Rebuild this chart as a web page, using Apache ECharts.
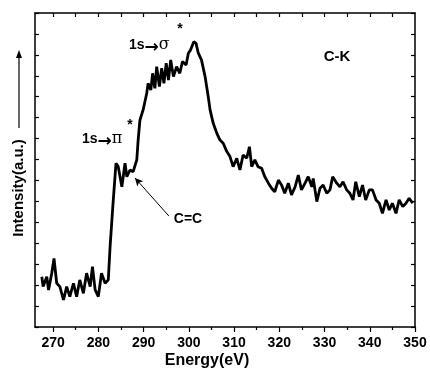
<!DOCTYPE html>
<html>
<head>
<meta charset="utf-8">
<script src="https://cdn.jsdelivr.net/npm/echarts@6/dist/echarts.min.js"></script>
<style>
  html, body { margin: 0; padding: 0; background: #fff; }
  #chart { width: 430px; height: 370px; }
</style>
</head>
<body>
<div id="chart"></div>
<script>
// C-K edge spectrum
var energy = [
  267.5, 267.8, 268.6, 269.0, 269.7, 270.2, 270.8, 271.5, 272.3, 273.0,
  273.7, 274.5, 275.2, 275.9, 276.7, 277.4, 278.2, 278.7, 279.3, 280.0,
  280.7, 281.5, 282.2, 282.6, 283.2, 283.9, 284.4, 285.2, 285.9, 286.3,
  287.0, 287.7, 288.5, 288.8, 289.2, 289.9, 290.7, 291.0, 291.6, 292.0,
  292.5, 292.9, 293.5, 294.0, 294.5, 295.0, 295.5, 296.0, 296.6, 297.3,
  298.0, 298.6, 299.4, 299.9, 300.4, 301.1, 301.6, 302.1, 302.8, 303.6,
  304.3, 304.7, 305.4,
  306.2, 306.9, 307.6, 308.4, 309.1, 309.8, 310.6, 311.3, 312.0, 312.8,
  313.4, 313.9, 314.6, 315.3, 316.1, 316.8, 317.6, 318.3, 319.0, 319.8,
  320.5, 321.2, 322.0, 322.7, 323.5, 324.2, 324.9, 325.7, 326.4, 327.2,
  327.5, 328.3, 329.0, 329.7, 330.5, 331.2, 331.8, 332.7, 333.4, 334.1,
  334.9, 335.6, 336.3, 336.9, 337.7, 338.4, 339.1, 339.9, 340.6, 341.4,
  342.1, 342.8, 343.6, 344.3, 345.0, 345.8, 346.5, 347.3, 348.0, 348.7,
  349.5
];
var intensity = [
  2.40, 1.93, 2.40, 1.77, 2.57, 3.28, 2.09, 1.93, 1.29, 1.93,
  1.45, 2.09, 1.45, 2.25, 1.61, 2.57, 1.93, 2.88, 1.77, 1.45,
  2.57, 2.09, 2.25, 3.84, 5.75, 7.82, 7.66, 6.70, 7.82, 7.18,
  7.50, 7.42, 7.98, 8.93, 9.89, 10.37, 11.17, 11.64, 11.32, 12.12,
  11.40, 12.44, 11.48, 12.36, 11.64, 12.60, 11.80, 12.76, 11.96, 12.44,
  12.12, 12.68, 12.52, 13.08, 13.24, 13.63, 13.55, 13.08, 12.76, 11.96,
  11.00, 10.37, 9.73,
  9.25, 8.93, 8.78, 8.38, 8.14, 7.66, 8.06, 7.50, 8.22, 8.06,
  8.61, 7.66, 7.98, 7.66, 7.58, 7.18, 6.87, 6.63, 6.46, 7.02,
  6.78, 6.39, 6.87, 6.31, 6.70, 7.26, 6.55, 6.87, 7.18, 6.70,
  7.10, 5.99, 6.63, 6.78, 6.39, 6.55, 7.18, 6.87, 6.70, 6.94,
  6.55, 6.39, 6.07, 6.94, 6.23, 6.78, 6.07, 6.55, 6.55, 6.07,
  5.91, 5.43, 6.07, 5.59, 5.91, 5.43, 6.07, 5.75, 5.91, 6.15,
  5.91
];
var xTicks = [270, 280, 290, 300, 310, 320, 330, 340, 350];
var xMinorTicks = [275, 285, 295, 305, 315, 325, 335, 345];
var topTicks = [270, 275, 280, 285, 290, 295, 300, 305, 310, 315, 320, 325, 330, 335, 340, 345];
// arrow pointing at the pi* feature
var ccArrow = [[295.6, 5.30], [288.1, 7.12]];

var font = "'Liberation Sans', Arial, sans-serif";
var black = "#000";

var myChart = echarts.init(document.getElementById("chart"));

var points = [];
for (var i = 0; i < energy.length; i++) {
  points.push([energy[i], intensity[i]]);
}

var axisLine = { show: true, lineStyle: { color: black, width: 1.5 } };

// rich text for the "1s -> x" transition labels
function transition(x, y, greek) {
  return {
    type: "text", x: x, y: y,
    style: {
      text: "{a|1s}{b|→}{c|" + greek + "}", verticalAlign: "middle",
      rich: {
        a: { font: "bold 14px " + font, color: black },
        b: { font: "bold 17px 'DejaVu Sans', sans-serif", color: black, padding: [5, 0, 0, 0] },
        c: { font: "16px 'DejaVu Serif', serif", color: black }
      }
    }
  };
}

myChart.setOption({
  animation: false,
  backgroundColor: "#fff",
  grid: { left: 35, right: 15, top: 13, bottom: 43 },
  xAxis: [
    {
      type: "value", min: 266, max: 350, position: "bottom",
      axisLine: axisLine,
      axisTick: { show: true, inside: false, length: 5, customValues: xTicks, lineStyle: { color: black, width: 1.2 } },
      axisLabel: { customValues: xTicks, margin: 9, color: black, fontSize: 14, fontWeight: "bold", fontFamily: font },
      splitLine: { show: false }
    },
    {
      type: "value", min: 266, max: 350, position: "bottom",
      axisLine: { show: false },
      axisTick: { show: true, inside: false, length: 3, customValues: xMinorTicks, lineStyle: { color: black, width: 1.2 } },
      axisLabel: { show: false },
      splitLine: { show: false }
    },
    {
      type: "value", min: 266, max: 350, position: "top",
      axisLine: axisLine,
      axisTick: { show: true, inside: true, length: 4, customValues: topTicks, lineStyle: { color: black, width: 1.2 } },
      axisLabel: { show: false },
      splitLine: { show: false }
    }
  ],
  yAxis: [
    {
      type: "value", min: 0, max: 15, interval: 1, position: "left",
      axisLine: axisLine,
      axisTick: { show: true, inside: true, length: 4, lineStyle: { color: black, width: 1.2 } },
      axisLabel: { show: false },
      splitLine: { show: false }
    },
    {
      type: "value", min: 0, max: 15, interval: 1, position: "right",
      axisLine: axisLine,
      axisTick: { show: true, inside: true, length: 4, lineStyle: { color: black, width: 1.2 } },
      axisLabel: { show: false },
      splitLine: { show: false }
    }
  ],
  series: [
    {
      name: "C-K",
      type: "line",
      xAxisIndex: 0,
      yAxisIndex: 0,
      data: points,
      showSymbol: false,
      lineStyle: { color: black, width: 2.8 },
      markLine: {
        silent: true,
        symbol: ["none", "arrow"],
        symbolSize: [6, 8],
        label: { show: false },
        lineStyle: { color: black, width: 1, type: "solid" },
        data: [[{ coord: ccArrow[0] }, { coord: ccArrow[1] }]]
      }
    }
  ],
  graphic: [
    // y axis name with arrow
    {
      type: "text", x: 19, y: 188, rotation: Math.PI / 2,
      style: { text: "Intensity(a.u.)", fill: black, font: "bold 15px " + font, align: "center", verticalAlign: "middle" }
    },
    { type: "line", shape: { x1: 19, y1: 128, x2: 19, y2: 56 }, style: { stroke: black, lineWidth: 1.2 } },
    { type: "polygon", shape: { points: [[19, 50], [16, 58], [22, 58]] }, style: { fill: black } },
    // x axis name
    {
      type: "text", x: 207, y: 361,
      style: { text: "Energy(eV)", fill: black, font: "bold 16px " + font, align: "center", verticalAlign: "middle" }
    },
    // C-K label
    {
      type: "text", x: 337, y: 57,
      style: { text: "C-K", fill: black, font: "bold 15px " + font, align: "center", verticalAlign: "middle" }
    },
    transition(129, 45, "σ"),
    { type: "text", x: 180, y: 29, style: { text: "*", fill: black, font: "bold 14px " + font, align: "center", verticalAlign: "middle" } },
    transition(82, 139, "π"),
    { type: "text", x: 130, y: 125, style: { text: "*", fill: black, font: "bold 14px " + font, align: "center", verticalAlign: "middle" } },
    // C=C
    {
      type: "text", x: 188, y: 219,
      style: { text: "C=C", fill: black, font: "bold 14px " + font, align: "center", verticalAlign: "middle" }
    }
  ]
});
</script>
</body>
</html>
